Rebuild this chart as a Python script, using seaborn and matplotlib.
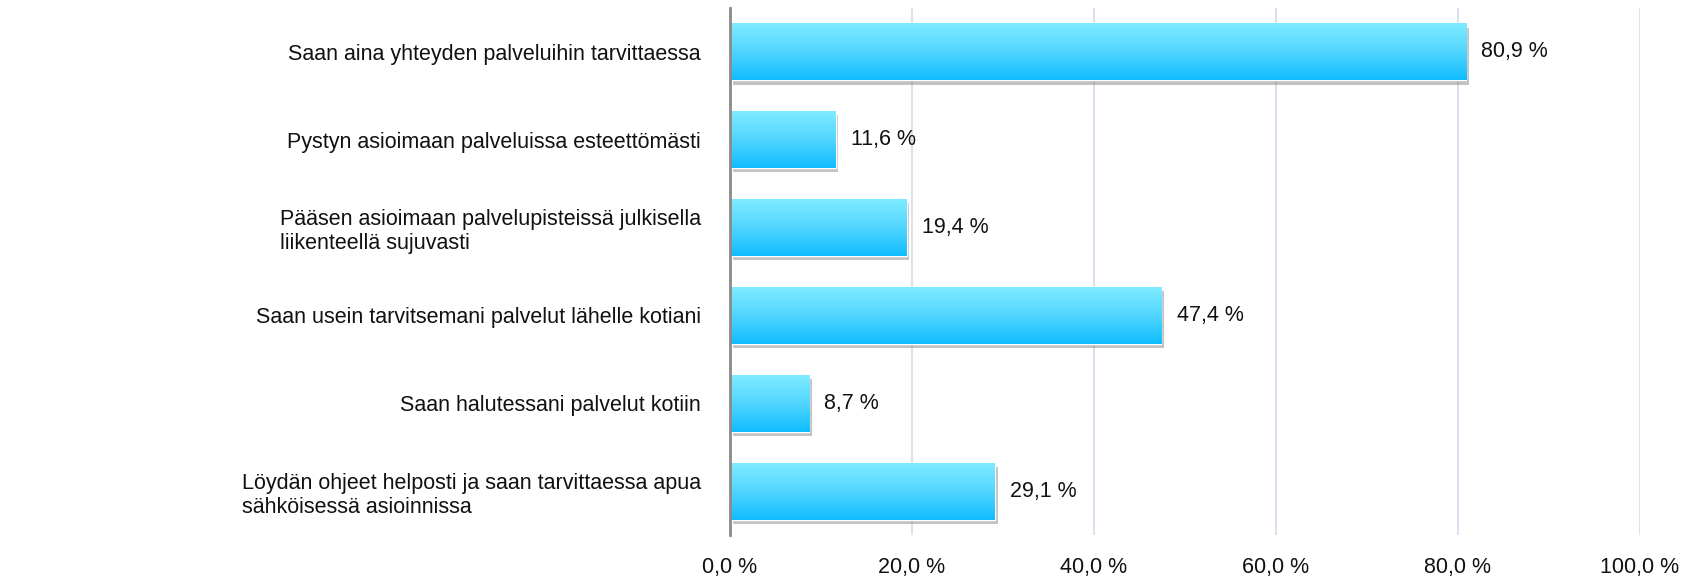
import numpy as np
import pandas as pd
import matplotlib
matplotlib.use("Agg")
import matplotlib.pyplot as plt
import matplotlib.patheffects as pe
from matplotlib.colors import LinearSegmentedColormap
import seaborn as sns

# Survey statements and share of respondents (%)
categories = [
    "Saan aina yhteyden palveluihin tarvittaessa",
    "Pystyn asioimaan palveluissa esteettömästi",
    "Pääsen asioimaan palvelupisteissä julkisella\nliikenteellä sujuvasti",
    "Saan usein tarvitsemani palvelut lähelle kotiani",
    "Saan halutessani palvelut kotiin",
    "Löydän ohjeet helposti ja saan tarvittaessa apua\nsähköisessä asioinnissa",
]
values = [80.9, 11.6, 19.4, 47.4, 8.7, 29.1]
x_ticks = [0, 20, 40, 60, 80, 100]
x_tick_labels = ["0,0 %", "20,0 %", "40,0 %", "60,0 %", "80,0 %", "100,0 %"]

df = pd.DataFrame({"Väite": categories, "Osuus": values})

sns.set_style("white")
plt.rcParams['font.family'] = ['Liberation Sans', 'DejaVu Sans']

fig = plt.figure(figsize=(17, 5.81), dpi=100)
ax = fig.add_axes([0.4294, 0.0792, 0.5353, 0.9070])

sns.barplot(data=df, x="Osuus", y="Väite", color="#3cc8ff", width=0.65, ax=ax, zorder=2)

# gradient fill + soft shadow on each bar
cmap = LinearSegmentedColormap.from_list("cyan", ["#80ecff", "#52d6ff", "#10bcff"])
grad = np.linspace(0, 1, 100).reshape(-1, 1)
for patch in ax.patches:
    x0, y0 = patch.get_x(), patch.get_y()
    w, h = patch.get_width(), patch.get_height()
    patch.set_path_effects([pe.SimplePatchShadow(offset=(2, -3), shadow_rgbFace="#555555", alpha=0.35),
                            pe.Normal()])
    im = ax.imshow(grad, cmap=cmap, extent=(x0, x0 + w, y0 + h, y0), origin="upper",
                   aspect="auto", zorder=3)
    im.set_clip_path(patch)

ax.set_xlim(0, 100)
ax.set_ylim(len(categories) - 0.5, -0.5)

labels = [f"{v:.1f} %".replace(".", ",") for v in values]
ax.bar_label(ax.containers[0], labels=labels, padding=11, fontsize=15.5, color="#111111")

ax.set_xticks(x_ticks)
ax.set_xticklabels(x_tick_labels, fontsize=15.5, color="#111111")
ax.tick_params(axis="x", length=0, pad=16)
ax.tick_params(axis="y", length=0, pad=21, labelsize=15.5, labelcolor="#111111")
for lab in ax.get_yticklabels():
    lab.set_multialignment("left")

ax.xaxis.grid(True, color="#d9e3ef", linewidth=1.5, zorder=0)
ax.set_axisbelow(True)
ax.set_xlabel("")
ax.set_ylabel("")
for side in ["top", "right", "bottom"]:
    ax.spines[side].set_visible(False)
ax.spines["left"].set_color("#8a8a8a")
ax.spines["left"].set_linewidth(2)
ax.spines["left"].set_zorder(5)

fig.savefig("out.png", dpi=100)
